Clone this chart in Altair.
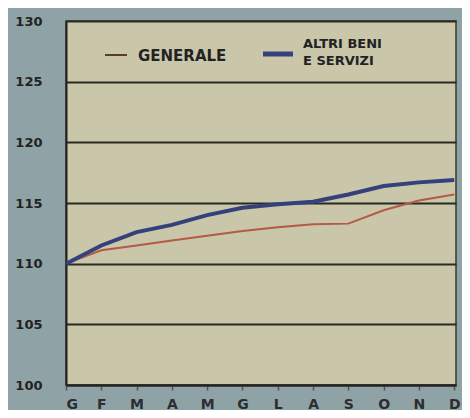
import altair as alt
import pandas as pd

months = ["G", "F", "M", "A", "M", "G", "L", "A", "S", "O", "N", "D"]
generale = [110.0, 111.1, 111.5, 111.9, 112.3, 112.7, 113.0, 113.25, 113.3, 114.4, 115.2, 115.7]
altri = [110.0, 111.5, 112.6, 113.2, 114.0, 114.6, 114.9, 115.1, 115.7, 116.4, 116.7, 116.9]
series_names = ["GENERALE", "ALTRI BENI E SERVIZI"]
y_ticks = [100, 105, 110, 115, 120, 125, 130]

rows = []
for i, m in enumerate(months):
    rows.append({"idx": i, "serie": series_names[0], "val": generale[i]})
    rows.append({"idx": i, "serie": series_names[1], "val": altri[i]})
df = pd.DataFrame(rows)

FONT = "DejaVu Sans, sans-serif"
BG = "#8fa3a6"
PLOT_BG = "#c9c6aa"
RED = "#b45a48"
BLUE = "#34417a"

label_expr = "[" + ",".join("'%s'" % m for m in months) + "][datum.value]"

x_enc = alt.X("idx:Q", scale=alt.Scale(domain=[0, 11.05], nice=False),
              axis=alt.Axis(values=list(range(12)), labelExpr=label_expr, title=None,
                            grid=False, domain=True, domainColor="#222", domainWidth=2,
                            ticks=True, tickSize=5, tickColor="#555", tickWidth=1.5,
                            labelPadding=7, labelFontSize=14, labelFont=FONT,
                            labelColor="#2a2e30", labelFontWeight="bold"))
y_enc = alt.Y("val:Q", scale=alt.Scale(domain=[100, 130], nice=False, zero=False),
              axis=alt.Axis(values=y_ticks, title=None, grid=True, gridColor="#2a2a22",
                            gridWidth=2, gridOpacity=1, domain=True, domainColor="#222",
                            domainWidth=2, ticks=False, labelPadding=24, labelFontSize=13,
                            labelFont=FONT, labelColor="#222", labelFontWeight="bold"))

gen_line = alt.Chart(df).transform_filter(alt.datum.serie == series_names[0]).mark_line(
    color=RED, strokeWidth=2).encode(x=x_enc, y=y_enc)
alt_line = alt.Chart(df).transform_filter(alt.datum.serie == series_names[1]).mark_line(
    color=BLUE, strokeWidth=4).encode(x=x_enc, y=y_enc)

one = pd.DataFrame({"a": [0]})
leg_gen = alt.Chart(one).mark_rule(color="#5a3a30", strokeWidth=2).encode(
    x=alt.value(39), x2=alt.value(61), y=alt.value(34))
leg_alt = alt.Chart(one).mark_rule(color=BLUE, strokeWidth=5).encode(
    x=alt.value(197), x2=alt.value(227), y=alt.value(33))
txt_gen = alt.Chart(one).mark_text(align="left", baseline="middle", font=FONT,
                                   fontSize=15, fontWeight="bold", color="#222").encode(
    x=alt.value(72), y=alt.value(35), text=alt.value("GENERALE"))
txt_alt1 = alt.Chart(one).mark_text(align="left", baseline="middle", font=FONT,
                                    fontSize=13, fontWeight="bold", color="#222").encode(
    x=alt.value(237), y=alt.value(23), text=alt.value("ALTRI BENI"))
txt_alt2 = alt.Chart(one).mark_text(align="left", baseline="middle", font=FONT,
                                    fontSize=13, fontWeight="bold", color="#222").encode(
    x=alt.value(237), y=alt.value(40), text=alt.value("E SERVIZI"))

chart = alt.layer(gen_line, alt_line, leg_gen, leg_alt, txt_gen, txt_alt1, txt_alt2).properties(
    width=390, height=364,
    autosize=alt.AutoSizeParams(type="none"),
    padding={"left": 58, "top": 13, "right": 6, "bottom": 25},
    background=BG,
).configure_view(fill=PLOT_BG, stroke="#3a3a30", strokeWidth=1.5)

chart.save("out.html", embed_options={"renderer": "svg", "actions": False})
